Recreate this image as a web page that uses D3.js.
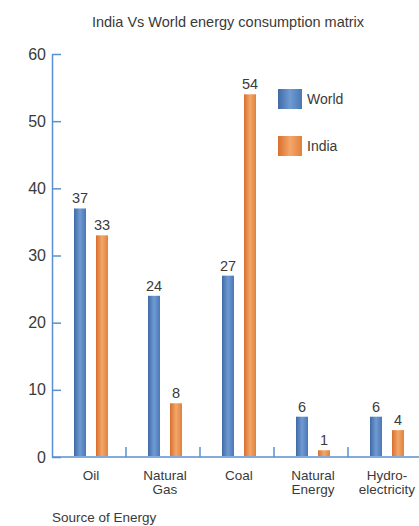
<!DOCTYPE html>
<html>
<head>
<meta charset="utf-8">
<script src="https://cdn.jsdelivr.net/npm/d3@7"></script>
<style>
  body { margin: 0; background: #fff; }
  svg { display: block; font-family: "Liberation Sans", Arial, Helvetica, sans-serif; }
</style>
</head>
<body>
<script>
// data
var categories = ["Oil", "Natural Gas", "Coal", "Natural Energy", "Hydro-electricity"];
var categoryLines = [["Oil"], ["Natural", "Gas"], ["Coal"], ["Natural", "Energy"], ["Hydro-", "electricity"]];
var series = ["World", "India"];
var worldValues = [37, 24, 27, 6, 6];
var indiaValues = [33, 8, 54, 1, 4];
var yTicks = [0, 10, 20, 30, 40, 50, 60];

var width = 419, height = 526;
var axisColor = "#5b8fd3",
    textColor = "#3a3a3a";

var svg = d3.select("body").append("svg")
    .attr("width", width).attr("height", height);

// gradients for the cylinder-ish bars
var defs = svg.append("defs");
var gradStops = {
  World: ["#3f6aa6", "#6f9bd2", "#4a78b6"],
  India: ["#d96e2e", "#f2a86a", "#e2803d"]
};
series.forEach(function(s) {
  var g = defs.append("linearGradient").attr("id", "grad" + s)
      .attr("x1", "0%").attr("x2", "100%").attr("y1", "0%").attr("y2", "0%");
  g.selectAll("stop").data(gradStops[s]).enter().append("stop")
      .attr("offset", (d, i) => (i * 50) + "%")
      .attr("stop-color", d => d);
});

var x = d3.scaleBand().domain(categories).range([52, 422]).paddingInner(0).paddingOuter(0);
var xInner = d3.scaleBand().domain(series).range([22, 56]).paddingInner(0.4545).paddingOuter(0);
var y = d3.scaleLinear().domain([0, 60]).range([457, 54]);

var rows = categories.map((c, i) => ({ cat: c, World: worldValues[i], India: indiaValues[i] }));

// title
svg.append("text")
    .attr("x", 228).attr("y", 27)
    .attr("text-anchor", "middle")
    .style("font-size", "14.5px").style("fill", textColor)
    .text("India Vs World energy consumption matrix");

// bars
var groups = svg.selectAll(".cat").data(rows).enter().append("g")
    .attr("class", "cat")
    .attr("transform", d => "translate(" + x(d.cat) + ",0)");

groups.selectAll("rect")
    .data(d => series.map(s => ({ key: s, value: d[s] })))
    .enter().append("rect")
      .attr("x", d => xInner(d.key))
      .attr("width", xInner.bandwidth())
      .attr("y", d => y(d.value))
      .attr("height", d => y(0) - y(d.value) - 1)
      .attr("fill", d => "url(#grad" + d.key + ")");

groups.selectAll(".val")
    .data(d => series.map(s => ({ key: s, value: d[s] })))
    .enter().append("text")
      .attr("class", "val")
      .attr("x", d => xInner(d.key) + xInner.bandwidth() / 2)
      .attr("y", d => y(d.value) - 5)
      .attr("text-anchor", "middle")
      .style("font-size", "14.5px").style("fill", textColor)
      .text(d => d.value);

// y axis
var yAxis = d3.axisLeft(y).tickValues(yTicks).tickSizeInner(-9).tickSizeOuter(0).tickPadding(6);
var yg = svg.append("g").attr("transform", "translate(52,0)").call(yAxis);
yg.select(".domain").attr("stroke", axisColor).attr("stroke-width", 1.5);
yg.selectAll(".tick line").attr("stroke", axisColor).attr("stroke-width", 1.5);
yg.selectAll(".tick text")
    .style("font-size", "16px").style("fill", textColor)
    .style("font-family", "'Liberation Sans', Arial, Helvetica, sans-serif");

// x axis: baseline plus dividers between categories
svg.append("line")
    .attr("x1", 52).attr("x2", width)
    .attr("y1", y(0)).attr("y2", y(0))
    .attr("stroke", axisColor).attr("stroke-width", 1.5);

svg.selectAll(".divider").data(categories.slice(1)).enter().append("line")
    .attr("class", "divider")
    .attr("x1", d => x(d)).attr("x2", d => x(d))
    .attr("y1", y(0)).attr("y2", y(0) - 10)
    .attr("stroke", axisColor).attr("stroke-width", 1.5);

var labels = svg.selectAll(".catLabel").data(categories).enter().append("text")
    .attr("class", "catLabel")
    .attr("text-anchor", "middle")
    .style("font-size", "13.5px").style("fill", textColor);

labels.each(function(d, i) {
  var t = d3.select(this);
  categoryLines[i].forEach(function(line, j) {
    t.append("tspan")
        .attr("x", x(d) + x.bandwidth() / 2 + 2)
        .attr("y", 480 + j * 14)
        .text(line);
  });
});

svg.append("text")
    .attr("x", 52).attr("y", 522)
    .style("font-size", "13.5px").style("fill", textColor)
    .text("Source of Energy");

// legend
var legend = svg.selectAll(".legend").data(series).enter().append("g")
    .attr("class", "legend")
    .attr("transform", (d, i) => "translate(278," + (89 + i * 47) + ")");

legend.append("rect")
    .attr("width", 24).attr("height", 20)
    .attr("fill", d => "url(#grad" + d + ")");

legend.append("text")
    .attr("x", 29).attr("y", 15)
    .style("font-size", "14px").style("fill", textColor)
    .text(d => d);
</script>
</body>
</html>
